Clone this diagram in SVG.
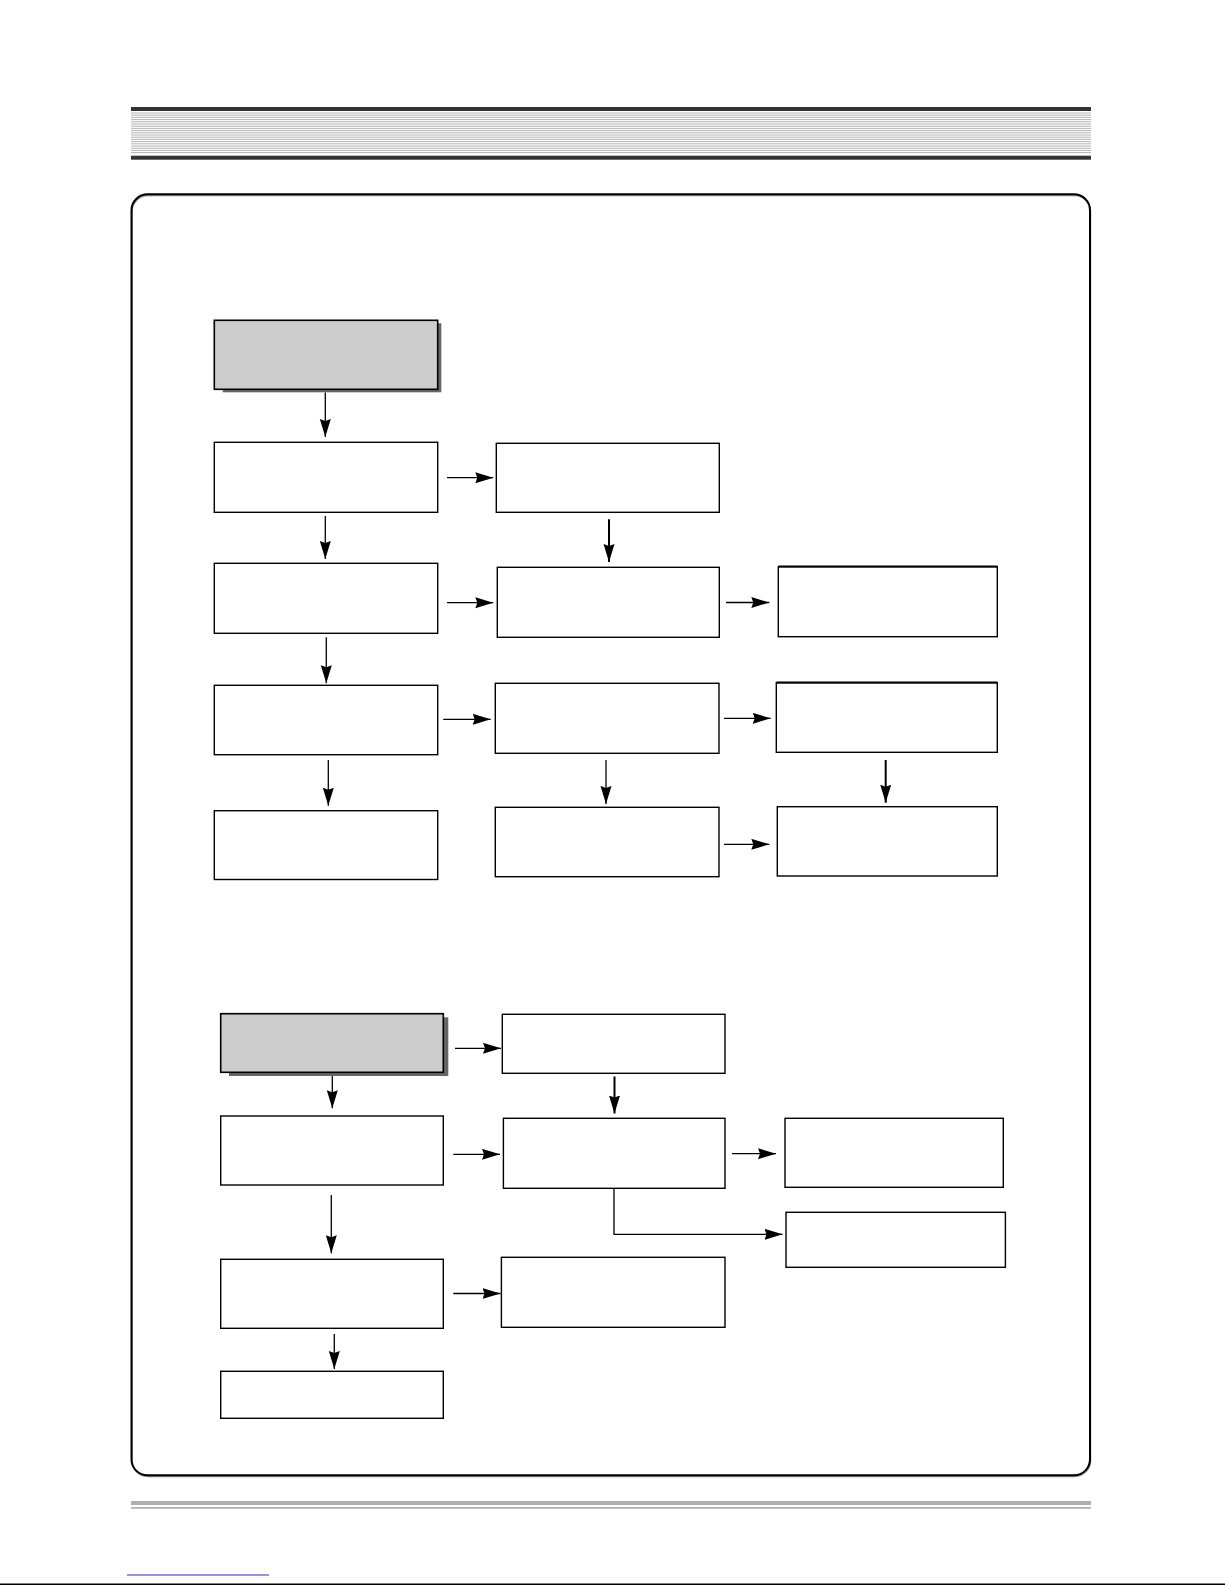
<svg xmlns="http://www.w3.org/2000/svg" width="1225" height="1585" viewBox="0 0 1225 1585">
<style>
.box{fill:#ffffff;stroke:#000;stroke-width:1.4}
.gbox{fill:#cccccc;stroke:#000;stroke-width:1.6}
.shadow{fill:#666666}
.c{fill:none;stroke:#000;stroke-width:1.3}
.ct{fill:none;stroke:#000;stroke-width:2}
.hl{stroke:#aaaaaa;stroke-width:0.9}
</style>
<defs>
<marker id="ah" markerUnits="userSpaceOnUse" markerWidth="19" markerHeight="12" refX="18" refY="5.5" orient="auto">
<path d="M0,0 L18,5.5 L0,11 L2,5.5 z" fill="#000"/>
</marker>
</defs>
<rect x="0" y="0" width="1225" height="1585" fill="#ffffff"/>
<g id="header">
<rect x="131" y="107" width="960" height="4" fill="#333333"/>
<g class="hl">
<line x1="131" y1="113" x2="1091" y2="113"/>
<line x1="131" y1="115.2" x2="1091" y2="115.2"/>
<line x1="131" y1="117.4" x2="1091" y2="117.4"/>
<line x1="131" y1="119.6" x2="1091" y2="119.6"/>
<line x1="131" y1="121.8" x2="1091" y2="121.8"/>
<line x1="131" y1="124" x2="1091" y2="124"/>
<line x1="131" y1="126.2" x2="1091" y2="126.2"/>
<line x1="131" y1="128.4" x2="1091" y2="128.4"/>
<line x1="131" y1="130.6" x2="1091" y2="130.6"/>
<line x1="131" y1="132.8" x2="1091" y2="132.8"/>
<line x1="131" y1="135" x2="1091" y2="135"/>
<line x1="131" y1="137.2" x2="1091" y2="137.2"/>
<line x1="131" y1="139.4" x2="1091" y2="139.4"/>
<line x1="131" y1="141.6" x2="1091" y2="141.6"/>
<line x1="131" y1="143.8" x2="1091" y2="143.8"/>
<line x1="131" y1="146" x2="1091" y2="146"/>
<line x1="131" y1="148.2" x2="1091" y2="148.2"/>
<line x1="131" y1="150.4" x2="1091" y2="150.4"/>
<line x1="131" y1="152.6" x2="1091" y2="152.6"/>
</g>
<rect x="131" y="155.7" width="960" height="4" fill="#333333"/>
</g>
<g id="frame">
<rect x="132" y="195.5" width="958.5" height="1281" rx="16" fill="none" stroke="#888" stroke-width="1.5"/>
<rect x="131.5" y="194.3" width="958.5" height="1281" rx="16" fill="none" stroke="#000" stroke-width="2"/>
</g>
<g id="footer">
<rect x="131" y="1501" width="960" height="4" fill="#b0b0b0"/>
<rect x="131" y="1507" width="960" height="1.7" fill="#b0b0b0"/>
<line x1="127" y1="1575" x2="269" y2="1575" stroke="#2a2ad8" stroke-width="1.2"/>
<line x1="0" y1="1584.3" x2="1225" y2="1584.3" stroke="#000" stroke-width="1.4"/>
</g>
<g id="nodeA">
<rect class="shadow" x="222.7" y="323.3" width="218.6" height="69"/>
<rect class="gbox" x="214.3" y="320.3" width="223.4" height="69"/>
</g>
<g id="nodeB1"><rect class="box" x="214.3" y="442.3" width="223.4" height="70"/></g>
<g id="nodeB2"><rect class="box" x="214.3" y="563.3" width="223.4" height="70"/></g>
<g id="nodeB3"><rect class="box" x="214.3" y="685.3" width="223.4" height="69.4"/></g>
<g id="nodeB4"><rect class="box" x="214.3" y="810.7" width="223.4" height="68.8"/></g>
<g id="nodeC1"><rect class="box" x="496.3" y="443.3" width="223" height="69"/></g>
<g id="nodeC2"><rect class="box" x="497.3" y="567.3" width="222" height="70"/></g>
<g id="nodeC3"><rect class="box" x="495.3" y="683.3" width="223.7" height="70"/></g>
<g id="nodeC4"><rect class="box" x="495.3" y="807.3" width="223.7" height="69.4"/></g>
<g id="nodeD2"><rect class="box" x="778.3" y="566.7" width="219" height="70"/><line x1="778.3" y1="566.4" x2="997.3" y2="566.4" stroke="#000" stroke-width="2"/></g>
<g id="nodeD3"><rect class="box" x="776.3" y="682.7" width="221" height="69.6"/><line x1="776.3" y1="682.4" x2="997.3" y2="682.4" stroke="#000" stroke-width="2"/></g>
<g id="nodeD4"><rect class="box" x="777.3" y="806.7" width="220" height="69.3"/></g>
<g id="nodeE">
<rect class="shadow" x="229" y="1017.3" width="219.3" height="58.7"/>
<rect class="gbox" x="220.7" y="1013.7" width="222.6" height="58.6"/>
</g>
<g id="nodeE2"><rect class="box" x="220.7" y="1116" width="222.6" height="69"/></g>
<g id="nodeE3"><rect class="box" x="220.7" y="1259.3" width="222.6" height="69"/></g>
<g id="nodeE4"><rect class="box" x="220.7" y="1371.3" width="222.6" height="47"/></g>
<g id="nodeF1"><rect class="box" x="502.3" y="1014.3" width="222.7" height="59"/></g>
<g id="nodeF2"><rect class="box" x="503.4" y="1118.3" width="221.6" height="70"/></g>
<g id="nodeF3"><rect class="box" x="501.4" y="1257.3" width="223.6" height="70"/></g>
<g id="nodeG2"><rect class="box" x="785" y="1118.3" width="218.3" height="69"/></g>
<g id="nodeG3"><rect class="box" x="786" y="1212.3" width="219.4" height="55"/></g>
<g id="connectors">
<line class="c" x1="325.3" y1="392.5" x2="325.3" y2="437" marker-end="url(#ah)"/>
<line class="c" x1="447" y1="477.7" x2="493.3" y2="477.7" marker-end="url(#ah)"/>
<line class="c" x1="325.3" y1="516" x2="325.3" y2="559" marker-end="url(#ah)"/>
<line class="ct" x1="609" y1="519.3" x2="609" y2="562" marker-end="url(#ah)"/>
<line class="c" x1="447" y1="602.7" x2="493.3" y2="602.7" marker-end="url(#ah)"/>
<line class="c" x1="726" y1="602.5" x2="769.3" y2="602.5" marker-end="url(#ah)"/>
<line class="c" x1="326.3" y1="637.3" x2="326.3" y2="683.3" marker-end="url(#ah)"/>
<line class="c" x1="443.3" y1="719.3" x2="490.7" y2="719.3" marker-end="url(#ah)"/>
<line class="c" x1="724" y1="718.3" x2="770.7" y2="718.3" marker-end="url(#ah)"/>
<line class="c" x1="328.3" y1="760" x2="328.3" y2="805.7" marker-end="url(#ah)"/>
<line class="c" x1="606" y1="760" x2="606" y2="804" marker-end="url(#ah)"/>
<line class="ct" x1="885.7" y1="760" x2="885.7" y2="802.7" marker-end="url(#ah)"/>
<line class="c" x1="724" y1="844.3" x2="769.3" y2="844.3" marker-end="url(#ah)"/>
<line class="c" x1="455" y1="1048.3" x2="501" y2="1048.3" marker-end="url(#ah)"/>
<line class="c" x1="332.3" y1="1076" x2="332.3" y2="1108.3" marker-end="url(#ah)"/>
<line class="ct" x1="614.5" y1="1076.5" x2="614.5" y2="1113.5" marker-end="url(#ah)"/>
<line class="c" x1="453.3" y1="1154.3" x2="500" y2="1154.3" marker-end="url(#ah)"/>
<line class="c" x1="732" y1="1153.7" x2="776" y2="1153.7" marker-end="url(#ah)"/>
<polyline class="c" points="614,1188.3 614,1234.3 782.5,1234.3" marker-end="url(#ah)"/>
<line class="c" x1="331.3" y1="1195" x2="331.3" y2="1253.3" marker-end="url(#ah)"/>
<line class="c" x1="453.3" y1="1293.5" x2="500.5" y2="1293.5" marker-end="url(#ah)"/>
<line class="c" x1="334.3" y1="1334" x2="334.3" y2="1369" marker-end="url(#ah)"/>
</g>
</svg>
